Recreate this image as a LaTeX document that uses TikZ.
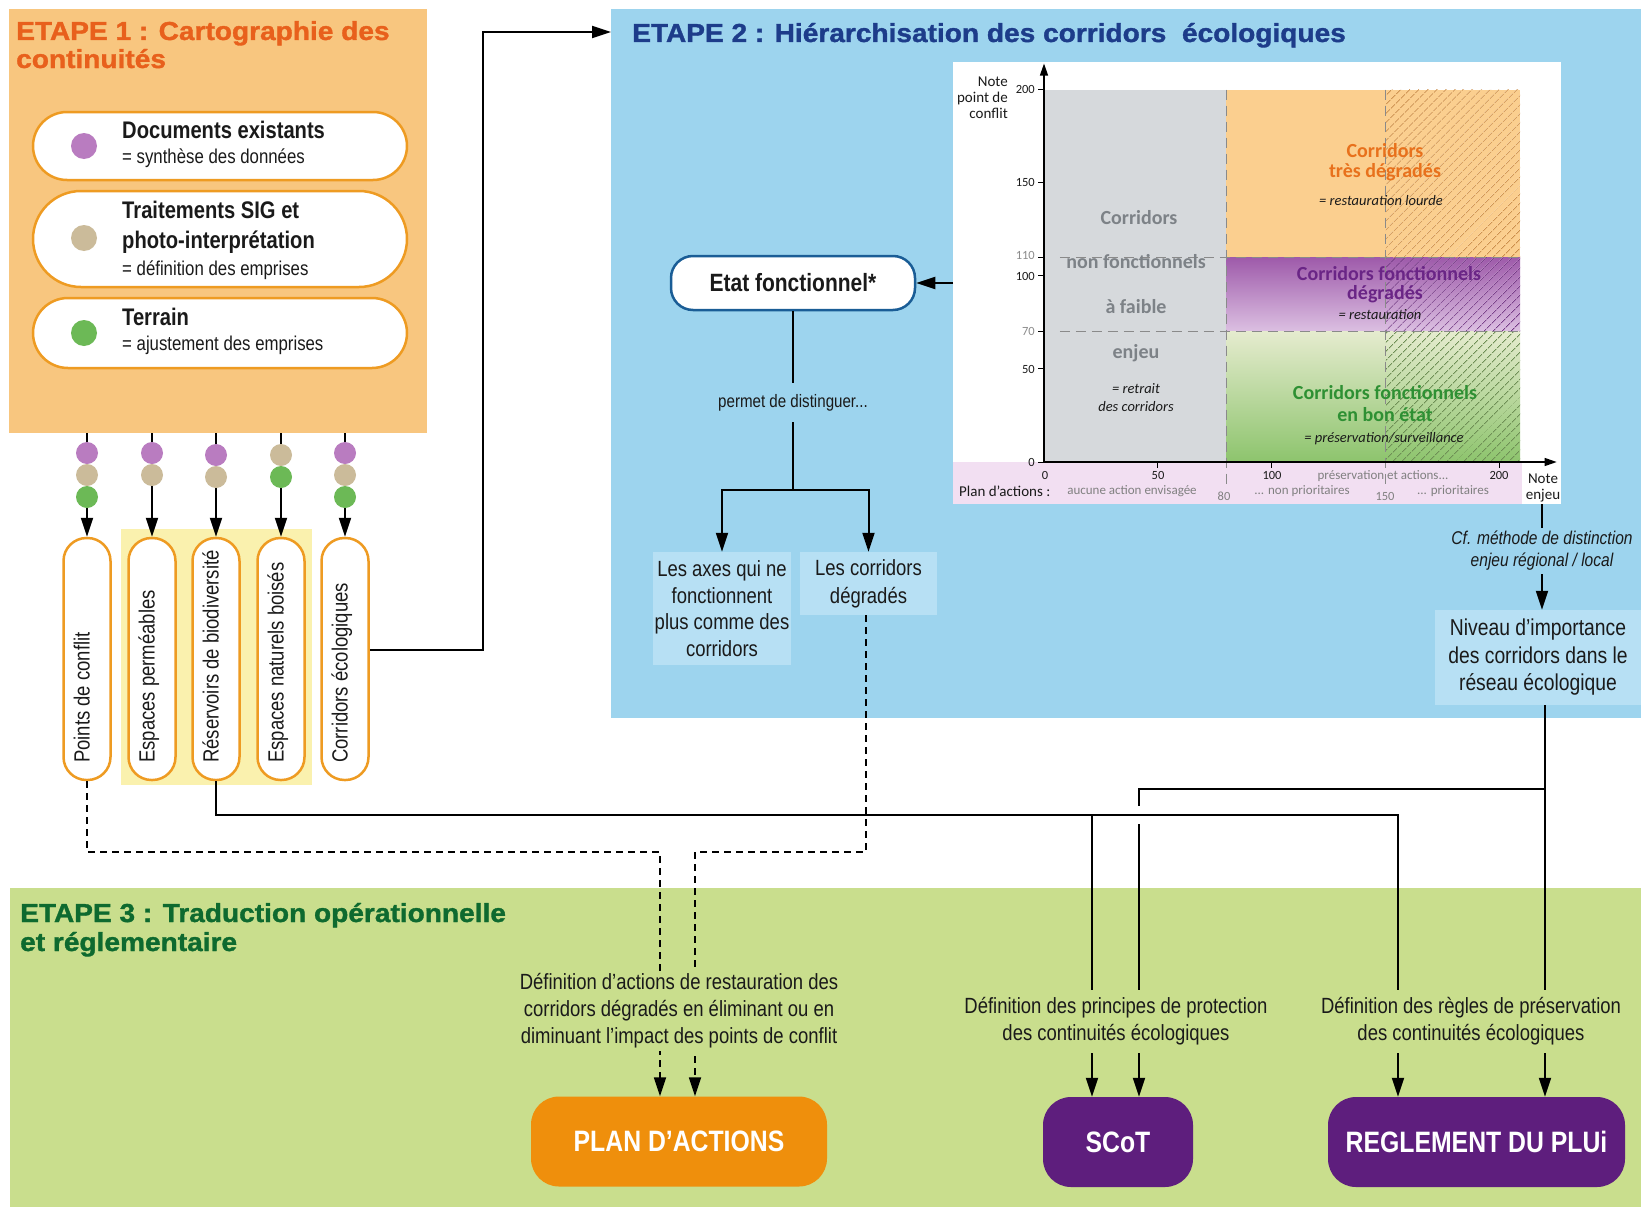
\documentclass[tikz,border=0pt]{standalone}
\usepackage{fontspec}
\setmainfont{Liberation Sans}
\newfontfamily\condf{Liberation Sans}[FakeStretch=0.84]
\newfontfamily\heavyf{Liberation Sans}[FakeStretch=1.08,BoldFeatures={FakeBold=1.3}]
\newfontfamily\calib{Carlito}
\usetikzlibrary{arrows.meta,shapes.misc,patterns.meta}
\definecolor{sAfill}{HTML}{F8C67F}
\definecolor{sAtitle}{HTML}{E8601C}
\definecolor{pillC}{HTML}{EE9B22}
\definecolor{dotP}{HTML}{B97CC0}
\definecolor{dotT}{HTML}{CBBB9A}
\definecolor{dotG}{HTML}{6CB956}
\definecolor{yel}{HTML}{FAF1AE}
\definecolor{sBfill}{HTML}{9DD4EE}
\definecolor{sBtitle}{HTML}{1D3C8A}
\definecolor{lbox}{HTML}{B7E0F4}
\definecolor{etatC}{HTML}{1A5D96}
\definecolor{sCfill}{HTML}{C9DE8D}
\definecolor{sCtitle}{HTML}{0E6A2F}
\definecolor{btnO}{HTML}{EF8F0C}
\definecolor{btnP}{HTML}{5E1E7D}
\definecolor{cGrey}{HTML}{D6D9DC}
\definecolor{cOr}{HTML}{FBCF8F}
\definecolor{cPtop}{HTML}{9E5AAA}
\definecolor{cPbot}{HTML}{DCC0E2}
\definecolor{cGtop}{HTML}{E5EBCE}
\definecolor{cGbot}{HTML}{8DC46D}
\definecolor{hO}{HTML}{C98A45}
\definecolor{hP}{HTML}{6E3080}
\definecolor{hG}{HTML}{6E8F55}
\definecolor{band}{HTML}{F2DFF2}
\definecolor{tGrey}{HTML}{7D8287}
\definecolor{tOr}{HTML}{E8711C}
\definecolor{tPu}{HTML}{6A2586}
\definecolor{tGr}{HTML}{2E9033}
\definecolor{dashC}{HTML}{8A8A8A}
\definecolor{txt}{HTML}{1A1A1A}
\newcommand\fsz[2]{\fontsize{#1}{#2}\selectfont}
\begin{document}
\begin{tikzpicture}[x=1pt,y=-1pt,
  conn/.style={line width=2pt,draw=black},
  arr/.style={conn,-{Triangle[length=19pt,width=12pt]}},
  dsh/.style={line width=1.8pt,draw=black,dash pattern=on 7pt off 5pt,-{Triangle[length=19pt,width=12pt]}},
  ttl/.style={anchor=base west,inner sep=0,font=\heavyf\bfseries\fsz{26}{32}},
  pillH/.style={rounded rectangle,draw=pillC,line width=2.5pt,fill=white,minimum width=374pt,inner sep=0},
  pillV/.style={rectangle,rounded corners=23pt,draw=pillC,line width=2.5pt,fill=white,minimum width=47pt,minimum height=242pt,inner sep=0},
  dotn/.style={circle,inner sep=0,minimum size=22pt},
  ptxtB/.style={anchor=base west,inner sep=0,text=txt,font=\condf\bfseries\fsz{24}{28}},
  ptxtR/.style={anchor=base west,inner sep=0,text=txt,font=\condf\fsz{20}{24}},
  vtxt/.style={rotate=90,anchor=mid west,inner sep=0,text=txt,font=\condf\fsz{22}{26}},
  btn/.style={rounded corners=28pt,minimum height=90pt,inner sep=0,text=white,font=\condf\bfseries\fsz{29.5}{34}},
  lbl3/.style={fill=sCfill,inner xsep=2pt,inner ysep=5pt,align=center,text=txt,font=\condf\fsz{22}{27}},
  cnote/.style={inner sep=0,text=txt,font=\calib\fsz{15}{16}},
  ctick/.style={inner sep=0,text=txt,font=\calib\fsz{12.5}{14}},
  cgb/.style={inner sep=0,font=\calib\bfseries\fsz{20}{22}},
  cit/.style={inner sep=0,text=txt,font=\calib\itshape\fsz{14.5}{17}},
  cplan/.style={inner sep=0,text=black!50,font=\calib\fsz{13}{15}},
  cdash/.style={draw=dashC,line width=1.3pt,dash pattern=on 10pt off 6pt},
  hatch/.style={pattern={Lines[angle=45,distance=6.5pt,line width=0.9pt]}}
]
\fill[white] (0,0) rectangle (1641,1207);
\useasboundingbox (0,0) rectangle (1641,1207);

% ---------- step areas
\node[fill=sAfill,anchor=north west,minimum width=418pt,minimum height=424pt,inner sep=0] (s1) at (9,9) {};
\node[fill=sBfill,anchor=north west,minimum width=1030pt,minimum height=709pt,inner sep=0] (s2) at (611,9) {};
\node[fill=sCfill,anchor=north west,minimum width=1631pt,minimum height=319pt,inner sep=0] (s3) at (10,888) {};
\node[fill=yel,anchor=north west,minimum width=191pt,minimum height=256pt,inner sep=0] (yb) at (121,529) {};

% ---------- titles
\node[ttl,text=sAtitle] (t1a) at (16,40) {ETAPE 1 : Cartographie des};
\node[ttl,text=sAtitle] (t1b) at (16,68) {continuités};
\node[ttl,text=sBtitle] (t2) at (632,42) {ETAPE 2 : Hiérarchisation des corridors\ \ écologiques};
\node[ttl,text=sCtitle] (t3a) at (20,922) {ETAPE 3 : Traduction opérationnelle};
\node[ttl,text=sCtitle] (t3b) at (20,951) {et réglementaire};

% ---------- step 1 pills
\node[pillH,minimum height=68pt] (pA) at (220,146) {};
\node[pillH,minimum height=96pt] (pB) at (220,239) {};
\node[pillH,minimum height=70pt] (pC) at (220,333) {};
\node[dotn,minimum size=26pt,fill=dotP] (dA) at (84,146) {};
\node[dotn,minimum size=26pt,fill=dotT] (dB) at (84,238) {};
\node[dotn,minimum size=26pt,fill=dotG] (dC) at (84,333) {};
\node[ptxtB] (pa1) at (122,138) {Documents existants};
\node[ptxtR] (pa2) at (122,163) {= synthèse des données};
\node[ptxtB] (pb1) at (122,218) {Traitements SIG et};
\node[ptxtB] (pb2) at (122,248) {photo-interprétation};
\node[ptxtR] (pb3) at (122,275) {= définition des emprises};
\node[ptxtB] (pc1) at (122,325) {Terrain};
\node[ptxtR] (pc2) at (122,350) {= ajustement des emprises};

% ---------- vertical pills
\node[pillV] (v1) at (87,659) {};
\node[pillV] (v2) at (152,659) {};
\node[pillV] (v3) at (216,659) {};
\node[pillV] (v4) at (281,659) {};
\node[pillV] (v5) at (345,659) {};
\node[vtxt] (vt1) at (87,763) {Points de conflit};
\node[vtxt] (vt2) at (152,763) {Espaces perméables};
\node[vtxt] (vt3) at (216,763) {Réservoirs de biodiversité};
\node[vtxt] (vt4) at (281,763) {Espaces naturels boisés};
\node[vtxt] (vt5) at (345,763) {Corridors écologiques};

\foreach \n in {1,...,5} \draw[arr] (s1.south -| v\n) -- (v\n.north);
\node[dotn,fill=dotP] (c1a) at (87,453) {};
\node[dotn,fill=dotT] (c1b) at (87,475) {};
\node[dotn,fill=dotG] (c1c) at (87,497) {};
\node[dotn,fill=dotP] (c2a) at (152,453) {};
\node[dotn,fill=dotT] (c2b) at (152,475) {};
\node[dotn,fill=dotP] (c3a) at (216,455) {};
\node[dotn,fill=dotT] (c3b) at (216,477) {};
\node[dotn,fill=dotT] (c4a) at (281,455) {};
\node[dotn,fill=dotG] (c4b) at (281,477) {};
\node[dotn,fill=dotP] (c5a) at (345,453) {};
\node[dotn,fill=dotT] (c5b) at (345,475) {};
\node[dotn,fill=dotG] (c5c) at (345,497) {};

\coordinate (k1) at (483,650);
\coordinate (k2) at (483,32);
\draw[arr] (v5.east |- k1) -- (k1) -- (k2) -- (s2.west |- k2);

% ---------- chart
\node[fill=white,anchor=north west,minimum width=608pt,minimum height=442pt,inner sep=0] (panel) at (953,62) {};
\fill[band] (953,462) rectangle (1522,504);
\begin{scope}[shift={(1044,462)},x=2.2785pt,y=1.862pt]
 \fill[cGrey] (0,0) rectangle (80,200);
 \fill[cOr] (80,110) rectangle (209,200);
 \shade[top color=cPtop,bottom color=cPbot] (80,70) rectangle (209,110);
 \shade[top color=cGtop,bottom color=cGbot] (80,0) rectangle (209,70);
 \fill[hatch,pattern color=hO] (150,110) rectangle (209,200);
 \fill[hatch,pattern color=hP] (150,70) rectangle (209,110);
 \fill[hatch,pattern color=hG] (150,0) rectangle (209,70);
 \draw[cdash] (80,200) -- (80,-13);
 \draw[cdash] (150,200) -- (150,-14);
 \draw[cdash] (7,110) -- (209,110);
 \draw[cdash] (7,70) -- (209,70);
 \draw[line width=1.3pt,-{Triangle[length=12pt,width=8pt]}] (0,0) -- (0,214);
 \draw[line width=1.3pt,-{Triangle[length=12pt,width=8pt]}] (0,0) -- (225,0);
 \foreach \v in {0,50,70,100,110,150,200} \draw[line width=1pt] (0,\v) -- (-2.6,\v);
 \foreach \u in {50,100,200} \draw[line width=1pt] (\u,0) -- (\u,-3);
\end{scope}
\node[cnote,align=right,anchor=east] (ynote) at (1008,98) {Note\\point de\\conflit};
\node[ctick,anchor=east] (y200) at (1035,89) {200};
\node[ctick,anchor=east] (y150) at (1035,182) {150};
\node[ctick,anchor=east,text=black!45] (y110) at (1035,255) {110};
\node[ctick,anchor=east] (y100) at (1035,276) {100};
\node[ctick,anchor=east,text=black!45] (y70) at (1035,331) {70};
\node[ctick,anchor=east] (y50) at (1035,369) {50};
\node[ctick,anchor=east] (y0) at (1035,462) {0};
\node[ctick] (x0) at (1045,475) {0};
\node[ctick] (x50) at (1158,475) {50};
\node[ctick] (x100) at (1272,475) {100};
\node[ctick] (x200) at (1499,475) {200};
\node[ctick,text=black!50] (x80) at (1224,496) {80};
\node[ctick,text=black!50] (x150) at (1385,496) {150};
\node[cnote,anchor=west] (plan0) at (959,491) {Plan d’actions :};
\node[cplan] (plan1) at (1132,491) {aucune action envisagée};
\node[cplan] (plan2) at (1302,491) {... non prioritaires};
\node[cplan] (plan3) at (1383,476) {préservation et actions...};
\node[cplan] (plan4) at (1453,491) {... prioritaires};
\node[cnote,align=center] (xnote) at (1543,488) {Note\\enjeu};

\node[cgb,text=tGrey] (g1) at (1139,218) {Corridors};
\node[cgb,text=tGrey] (g2) at (1136,262) {non fonctionnels};
\node[cgb,text=tGrey] (g3) at (1136,307) {à faible};
\node[cgb,text=tGrey] (g4) at (1136,353) {enjeu};
\node[cit] (g5) at (1136,389) {= retrait};
\node[cit] (g6) at (1136,407) {des corridors};
\node[cgb,text=tOr] (o1) at (1385,151) {Corridors};
\node[cgb,text=tOr] (o2) at (1385,172) {très dégradés};
\node[cit] (o3) at (1381,201) {= restauration lourde};
\node[cgb,text=tPu] (m1) at (1389,274) {Corridors fonctionnels};
\node[cgb,text=tPu] (m2) at (1385,294) {dégradés};
\node[cit] (m3) at (1380,315) {= restauration};
\node[cgb,text=tGr] (e1) at (1385,393) {Corridors fonctionnels};
\node[cgb,text=tGr] (e2) at (1385,415) {en bon état};
\node[cit] (e3) at (1384,439) {= préservation/surveillance};

% ---------- step 2 flow
\node[draw=etatC,line width=2.5pt,fill=white,rounded corners=22pt,minimum width=244pt,minimum height=54pt,inner sep=0,text=txt,font=\condf\bfseries\fsz{25}{29}] (etat) at (793,283) {Etat fonctionnel*};
\draw[arr] (panel.west |- etat.east) -- (etat.east);
\coordinate (sp) at (793,490);
\draw[conn] (etat.south) -- node[pos=0.51,fill=sBfill,inner xsep=2pt,inner ysep=11pt,text=txt,font=\condf\fsz{18}{21}] (pdd) {permet de distinguer...} (sp);
\node[fill=lbox,minimum width=138pt,minimum height=113pt,inner sep=0,align=center,text=txt,font=\condf\fsz{22}{26.7}] (axes) at (722,608.5) {Les axes qui ne\\fonctionnent\\plus comme des\\corridors};
\node[fill=lbox,minimum width=137pt,minimum height=63pt,inner sep=0,align=center,text=txt,font=\condf\fsz{22}{28}] (corrd) at (868.5,583.5) {Les corridors\\dégradés};
\draw[arr] (sp) -| (axes.north);
\draw[arr] (sp) -| (corrd.north);

\node[fill=lbox,minimum width=206pt,minimum height=95pt,inner sep=0,align=center,text=txt,font=\condf\fsz{23}{27.5}] (niv) at (1538,657.5) {Niveau d’importance\\des corridors dans le\\réseau écologique};
\coordinate (ne) at (1542,504);
\draw[arr] (ne) -- node[pos=0.44,fill=sBfill,inner xsep=2pt,inner ysep=3pt,align=center,text=txt,font=\condf\itshape\fsz{18.5}{22.5}] (cf) {Cf. méthode de distinction\\enjeu régional / local} (ne |- niv.north);

% ---------- step 3 boxes
\node[btn,fill=btnO,minimum width=296pt] (plan) at (679,1141.5) {PLAN D’ACTIONS};
\node[btn,fill=btnP,minimum width=150pt] (scot) at (1118,1142) {SCoT};
\node[btn,fill=btnP,minimum width=297pt] (regl) at (1476.5,1142) {REGLEMENT DU PLUi};

% ---------- connectors to step 3
\coordinate (kC) at (1545,789);
\coordinate (kD) at (1139,789);
\coordinate (kA) at (1398,815);
\coordinate (kB) at (1092,815);
\draw[arr] (niv.south -| kC) -- (kC |- regl.north);
\draw[arr] (kC) -- (kD) -- (kD |- scot.north);
\draw[white,line width=6pt] (1139,806) -- (1139,824);
\draw[arr] (v3.south) |- (kA) -- (kA |- regl.north);
\draw[arr] (kB) -- (kB |- scot.north);

\coordinate (k3) at (660,852);
\coordinate (k4) at (866,852);
\coordinate (k5) at (695,852);
\draw[dsh] (v1.south) |- (k3) -- (k3 |- plan.north);
\draw[dsh] (corrd.south -| k4) -- (k4) -- (k5) -- (k5 |- plan.north);

\node[lbl3,inner ysep=3pt] (defA) at (679,1011) {Définition d’actions de restauration des\\corridors dégradés en éliminant ou en\\diminuant l’impact des points de conflit};
\node[lbl3,inner ysep=8pt] (defP) at (1116,1021.5) {Définition des principes de protection\\des continuités écologiques};
\node[lbl3,inner ysep=8pt] (defR) at (1471,1021.5) {Définition des règles de préservation\\des continuités écologiques};
\end{tikzpicture}
\end{document}
